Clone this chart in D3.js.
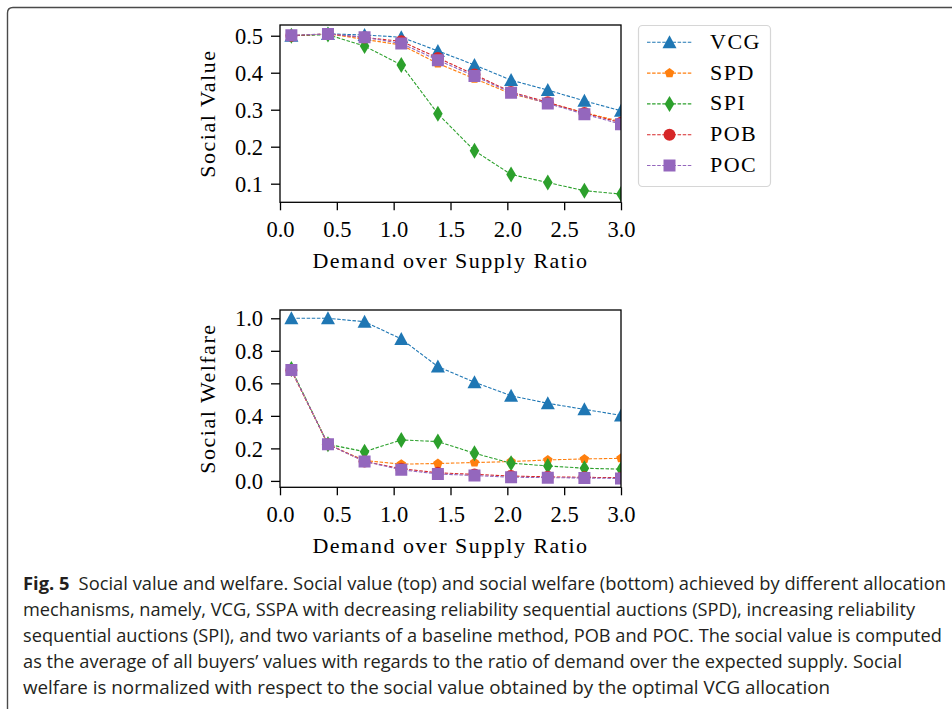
<!DOCTYPE html>
<html>
<head>
<meta charset="utf-8">
<script src="https://cdn.jsdelivr.net/npm/d3@7"></script>
<style>
  body { margin: 0; background: #fff; }
  svg { display: block; }
  .tick text { font-family: "Liberation Serif", serif; font-size: 22.5px; fill: #000; }
  .lab { font-family: "Liberation Serif", serif; font-size: 22px; letter-spacing: 1.5px; }
  .cap { font-family: "Open Sans", sans-serif; font-size: 17.5px; fill: #231f20; }
</style>
</head>
<body>
<div id="chart"></div>
<script>
// demand over supply ratio
const ratio = [0.1, 0.422, 0.744, 1.067, 1.389, 1.711, 2.033, 2.356, 2.678, 3.0];
const xTicks = [0, 0.5, 1.0, 1.5, 2.0, 2.5, 3.0];
const valueTicks = [0.1, 0.2, 0.3, 0.4, 0.5];
const welfareTicks = [0, 0.2, 0.4, 0.6, 0.8, 1.0];

const methods = ["VCG", "SPD", "SPI", "POB", "POC"];
const colors = ["#1f77b4", "#ff7f0e", "#2ca02c", "#d62728", "#9467bd"];
const shapes = ["triangle", "pentagon", "thin_diamond", "circle", "square"];

// social value (top)
const valueVCG = [0.500, 0.505, 0.502, 0.496, 0.459, 0.421, 0.380, 0.353, 0.324, 0.297];
const valueSPD = [0.500, 0.505, 0.490, 0.475, 0.425, 0.384, 0.343, 0.318, 0.292, 0.268];
const valueSPI = [0.500, 0.503, 0.472, 0.421, 0.289, 0.189, 0.125, 0.103, 0.081, 0.072];
const valuePOB = [0.500, 0.505, 0.495, 0.485, 0.440, 0.395, 0.348, 0.320, 0.291, 0.265];
const valuePOC = [0.501, 0.505, 0.496, 0.479, 0.434, 0.391, 0.346, 0.317, 0.288, 0.261];

// social welfare (bottom)
const welfareVCG = [1.000, 1.000, 0.979, 0.873, 0.703, 0.607, 0.524, 0.477, 0.440, 0.403];
const welfareSPD = [0.680, 0.225, 0.125, 0.103, 0.107, 0.113, 0.119, 0.129, 0.135, 0.139];
const welfareSPI = [0.688, 0.225, 0.180, 0.252, 0.242, 0.170, 0.109, 0.092, 0.078, 0.072];
const welfarePOB = [0.680, 0.225, 0.120, 0.075, 0.050, 0.040, 0.030, 0.025, 0.022, 0.020];
const welfarePOC = [0.682, 0.225, 0.120, 0.068, 0.043, 0.033, 0.023, 0.020, 0.018, 0.015];

const captionLines = [
  "mechanisms, namely, VCG, SSPA with decreasing reliability sequential auctions (SPD), increasing reliability",
  "sequential auctions (SPI), and two variants of a baseline method, POB and POC. The social value is computed",
  "as the average of all buyers\u2019 values with regards to the ratio of demand over the expected supply. Social",
  "welfare is normalized with respect to the social value obtained by the optimal VCG allocation"
];

const svg = d3.select("#chart")
  .append("svg")
  .attr("width", 952)
  .attr("height", 709);

// page frame
svg.append("path")
  .attr("d", "M7.5,709 L7.5,13 Q7.5,7.5 13,7.5 L952,7.5")
  .attr("fill", "none")
  .attr("stroke", "#4a4a4a")
  .attr("stroke-width", 1.4);

function marker(shape) {
  if (shape == "triangle") return "M0,-7L7,6L-7,6Z";
  if (shape == "square") return "M-6,-6H6V6H-6Z";
  if (shape == "circle") return d3.symbol(d3.symbolCircle, Math.PI * 6 * 6)();
  if (shape == "thin_diamond") return "M0,-8L4.8,0L0,8L-4.8,0Z";
  let pts = [];
  for (let k = 0; k < 5; k++) {
    let a = -Math.PI / 2 + k * 2 * Math.PI / 5;
    pts.push([5 * Math.cos(a), 5 * Math.sin(a)]);
  }
  return "M" + pts.join("L") + "Z";
}

function drawPanel(name, top, series, yDomain, yTicks, yLabel) {
  const x = d3.scaleLinear().domain([0, 3]).range([280, 621]);
  const y = d3.scaleLinear().domain(yDomain).range([top + 177.3, top]);
  const g = svg.append("g");

  g.append("clipPath").attr("id", "clip" + name)
    .append("rect")
    .attr("x", 280).attr("y", top)
    .attr("width", 341).attr("height", 177.3);

  const plot = g.append("g").attr("clip-path", "url(#clip" + name + ")");
  const line = d3.line().x((d, i) => x(ratio[i])).y(d => y(d));

  series.forEach((s, k) => {
    plot.append("path")
      .attr("d", line(s))
      .attr("fill", "none")
      .attr("stroke", colors[k])
      .attr("stroke-width", 1.1)
      .attr("stroke-dasharray", "3.5,1.6");
    plot.selectAll(".m" + k)
      .data(s)
      .enter()
      .append("path")
      .attr("class", "m" + k)
      .attr("d", marker(shapes[k]))
      .attr("transform", (d, i) => "translate(" + x(ratio[i]) + "," + y(d) + ")")
      .attr("fill", colors[k]);
  });

  const xAxis = g.append("g")
    .attr("transform", "translate(0," + (top + 177.3) + ")")
    .call(d3.axisBottom(x).tickValues(xTicks).tickFormat(d3.format(".1f")).tickSize(8).tickPadding(11));
  const yAxis = g.append("g")
    .attr("transform", "translate(280,0)")
    .call(d3.axisLeft(y).tickValues(yTicks).tickFormat(d3.format(".1f")).tickSize(9).tickPadding(8));
  xAxis.select(".domain").remove();
  yAxis.select(".domain").remove();
  g.selectAll(".tick line").attr("stroke", "#000").attr("stroke-width", 1.3);
  yAxis.selectAll(".tick text").attr("dy", "0.34em");

  g.append("rect")
    .attr("x", 280).attr("y", top)
    .attr("width", 341).attr("height", 177.3)
    .attr("fill", "none")
    .attr("stroke", "#000")
    .attr("stroke-width", 1.3);

  g.append("text")
    .attr("class", "lab")
    .attr("x", 450.5)
    .attr("y", top + 243.3)
    .attr("text-anchor", "middle")
    .text("Demand over Supply Ratio");

  g.append("text")
    .attr("class", "lab")
    .attr("transform", "translate(215," + (top + 88.6) + ") rotate(-90)")
    .attr("text-anchor", "middle")
    .text(yLabel);
}

drawPanel("top", 25, [valueVCG, valueSPD, valueSPI, valuePOB, valuePOC],
  [0.0497, 0.529], valueTicks, "Social Value");
drawPanel("bottom", 310, [welfareVCG, welfareSPD, welfareSPI, welfarePOB, welfarePOC],
  [-0.0393, 1.051], welfareTicks, "Social Welfare");

// legend
const legend = svg.append("g");
legend.append("rect")
  .attr("x", 638.5).attr("y", 25.5)
  .attr("width", 132).attr("height", 161)
  .attr("rx", 4)
  .attr("fill", "#fff")
  .attr("stroke", "#d6d6d6")
  .attr("stroke-width", 1.2);

methods.forEach((m, k) => {
  const ly = 42.3 + k * 30.8;
  legend.append("line")
    .attr("x1", 647).attr("x2", 692)
    .attr("y1", ly).attr("y2", ly)
    .attr("stroke", colors[k])
    .attr("stroke-width", 1.1)
    .attr("stroke-dasharray", "3.5,1.6");
  legend.append("path")
    .attr("d", marker(shapes[k]))
    .attr("transform", "translate(669.5," + ly + ")")
    .attr("fill", colors[k]);
  legend.append("text")
    .attr("class", "lab")
    .attr("x", 710)
    .attr("y", ly + 6.5)
    .text(m);
});

// caption
const cap = svg.append("text")
  .attr("class", "cap")
  .attr("x", 23)
  .attr("y", 590)
  .attr("textLength", 923)
  .attr("lengthAdjust", "spacingAndGlyphs");
cap.append("tspan").attr("font-weight", "bold").text("Fig. 5");
cap.append("tspan").attr("xml:space", "preserve").text("\u2002Social value and welfare. Social value (top) and social welfare (bottom) achieved by different allocation");

const capEnds = [915, 942, 902, 830];
captionLines.forEach((t, i) => {
  svg.append("text")
    .attr("class", "cap")
    .attr("x", 23)
    .attr("y", 616 + i * 26)
    .attr("textLength", capEnds[i] - 23)
    .attr("lengthAdjust", "spacingAndGlyphs")
    .text(t);
});
</script>
</body>
</html>
